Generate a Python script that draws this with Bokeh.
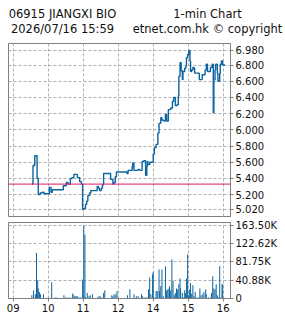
from bokeh.plotting import figure
from bokeh.models import Range1d, FixedTicker, Span, LinearAxis
from bokeh.layouts import column
from bokeh.embed import file_html
from bokeh.resources import INLINE

# ---- data (minutes after 09:00, lunch break removed) ----
price_min = [32, 34, 37, 41, 43, 46, 50, 53, 62, 65, 67, 86, 91, 94, 98, 101, 104, 110, 114, 117,
             119, 121, 124, 126, 128, 131, 133, 144, 146, 148, 151, 153, 155, 167, 171, 173, 175, 177,
             195, 197, 204, 205, 207, 210, 214, 217, 221, 224, 227, 229, 230, 231, 234, 240, 242, 245,
             248, 250, 253, 255, 258, 261, 263, 266, 270, 273, 275, 278, 281, 283, 284, 286, 288, 290,
             291, 294, 296, 297, 299, 301, 303, 304, 306, 308, 310, 311, 319, 324, 329, 331, 333, 338,
             341, 343, 344, 346, 347, 350, 351, 354, 355, 357, 359, 363]
price_val = [5.33, 5.56, 5.68, 5.40, 5.20, 5.22, 5.23, 5.21, 5.29, 5.23, 5.26, 5.31, 5.35, 5.33, 5.40, 5.41,
             5.45, 5.41, 5.36, 5.33, 5.02, 5.03, 5.08, 5.12, 5.19, 5.22, 5.25, 5.30, 5.28, 5.25, 5.28,
             5.32, 5.46, 5.39, 5.33, 5.35, 5.42, 5.48, 5.46, 5.50, 5.55, 5.59, 5.50, 5.50, 5.51, 5.50,
             5.61, 5.62, 5.44, 5.55, 5.61, 5.57, 5.60, 5.70, 5.78, 5.82, 5.96, 6.08, 6.15, 6.12, 6.11,
             6.19, 6.11, 6.25, 6.27, 6.35, 6.40, 6.30, 6.31, 6.42, 6.66, 6.83, 6.73, 6.62, 6.72, 6.76,
             6.79, 6.89, 6.93, 6.98, 6.85, 6.72, 6.74, 6.77, 6.76, 6.70, 6.62, 6.68, 6.74, 6.81, 6.72,
             6.77, 6.81, 6.21, 6.62, 6.74, 6.81, 6.70, 6.60, 6.70, 6.81, 6.85, 6.80, 6.80]
prev_close = 5.33

vol_min = [32, 35, 38, 40, 42, 43, 45, 47, 52, 60, 66, 72, 75, 87, 90, 92, 95, 98, 102, 104, 106, 108,
           110, 113, 116, 119, 121, 123, 124, 127, 130, 132, 136, 145, 147, 149, 152, 155, 157, 169,
           171, 173, 176, 178,
           196, 200, 207, 211, 214, 220, 222, 226, 228, 230, 232, 234, 236, 239, 240, 243, 245, 247,
           250, 251, 253, 255, 257, 261, 263, 265, 267, 268, 270, 272, 274, 276, 278, 280, 282, 284,
           286, 287, 290, 292, 294, 295, 297, 299, 300, 302, 304, 306, 308, 310, 312, 315, 318, 320,
           322, 325, 327, 330, 331, 335, 338, 340, 342, 344, 346, 348, 350, 352, 354, 356, 358, 359]
vol_k = [7.4, 18.5, 9.6, 101.7, 40.8, 22.3, 14.7, 9.6, 9.6, 2.2, 36.3, 2.2, 2.2, 7.4, 2.2, 2.2, 2.2, 2.2,
         11.0, 7.4, 5.1, 5.1, 5.1, 2.2, 2.2, 42.3, 163.5, 143.4, 2.9, 12.5, 5.1, 7.4, 9.6, 2.2, 5.1,
         5.1, 2.2, 12.5, 18.5, 7.4, 5.1, 9.6, 9.6, 17.0,
         7.4, 20.7, 9.6, 5.1, 5.1, 9.6, 5.1, 2.2, 2.2, 2.2, 20.7, 46.8, 9.6, 54.2, 59.4, 2.2, 17.0,
         17.0, 64.7, 17.0, 28.0, 64.7, 5.1, 72.0, 18.5, 20.0, 22.3, 27.4, 18.5, 87.6, 39.3, 7.4, 12.5,
         22.3, 20.0, 31.9, 44.6, 22.3, 12.5, 2.2, 18.5, 12.5, 44.6, 98.8, 7.4, 20.0, 34.8, 11.0, 29.7,
         5.1, 14.7, 2.2, 2.2, 22.3, 7.4, 9.6, 14.7, 20.7, 9.6, 2.2, 2.2, 12.5, 49.7, 22.3, 20.7, 31.9,
         7.4, 2.2, 72.0, 2.2, 31.9, 31.9]
vol_val = [v * 1000 for v in vol_k]

price_ticks = [5.02, 5.2, 5.4, 5.6, 5.8, 6.0, 6.2, 6.4, 6.6, 6.8, 6.98]
price_labels = ["5.020", "5.200", "5.400", "5.600", "5.800", "6.000", "6.200", "6.400", "6.600",
                "6.800", "6.980"]
vol_ticks = [0, 40875, 81750, 122625, 163500]
vol_labels = ["0", "40.88K", "81.75K", "122.62K", "163.50K"]
hour_ticks = [0, 60, 120, 180, 240, 300, 360]
hour_labels = ["09", "10", "11", "12", "14", "15", "16"]

header_left = "06915 JIANGXI BIO\n2026/07/16 15:59"
header_right = "1-min Chart\netnet.com.hk \u00a9 copyright"

# ---- styles ----
BLUE = "#0b64a0"
RED = "#e0186c"
GRID = "#b0b0b0"
BORDER = "#808080"
FONT = "DejaVu Sans"
X_RANGE = (-8, 372.5)


def style(p):
    p.outline_line_color = BORDER
    p.outline_line_width = 1
    p.background_fill_color = "white"
    p.border_fill_color = "white"
    for g in p.grid:
        g.grid_line_color = GRID
        g.grid_line_dash = "3 2"
        g.grid_line_width = 1
    for ax in p.axis:
        ax.axis_line_color = BORDER
        ax.major_tick_line_color = BORDER
        ax.major_tick_out = 3
        ax.major_tick_in = 0
        ax.minor_tick_line_color = None
        ax.major_label_text_font = FONT
        ax.major_label_text_font_size = "10px"
        ax.major_label_text_color = "#111111"
        ax.major_label_standoff = 2


p1 = figure(width=285, height=219, x_range=Range1d(*X_RANGE), y_range=Range1d(4.93, 7.066),
            output_backend="svg", toolbar_location=None, y_axis_location="right",
            x_axis_location=None, min_border_left=8, min_border_right=55,
            min_border_top=43, min_border_bottom=3)
p1.yaxis.ticker = FixedTicker(ticks=price_ticks)
p1.yaxis.major_label_overrides = {t: l for t, l in zip(price_ticks, price_labels)}
for g in p1.grid:
    if g.dimension == 0:
        g.ticker = FixedTicker(ticks=hour_ticks)
style(p1)

# header: an invisible axis above the frame, in canvas-pixel coordinates
p1.extra_x_ranges = {"px": Range1d(8, 230)}
hdr_pos = [62, 207]
hdr = LinearAxis(x_range_name="px", ticker=FixedTicker(ticks=hdr_pos),
                 major_label_overrides={hdr_pos[0]: header_left, hdr_pos[1]: header_right})
hdr.axis_line_color = None
hdr.major_tick_line_color = None
hdr.minor_tick_line_color = None
hdr.major_tick_in = 0
hdr.major_tick_out = 0
hdr.major_label_text_font = FONT
hdr.major_label_text_font_size = "11.5px"
hdr.major_label_text_line_height = 1.06
hdr.major_label_text_color = "#111111"
hdr.major_label_standoff = 8
p1.add_layout(hdr, "above")

p1.add_layout(Span(location=prev_close, dimension="width", line_color=RED, line_width=1))
p1.step(price_min, price_val, mode="after", line_color=BLUE, line_width=1.4)

p2 = figure(width=285, height=99, x_range=Range1d(*X_RANGE), y_range=Range1d(0, 170200),
            output_backend="svg", toolbar_location=None, y_axis_location="right",
            min_border_left=8, min_border_right=55, min_border_top=3, min_border_bottom=20)
p2.yaxis.ticker = FixedTicker(ticks=vol_ticks)
p2.yaxis.major_label_overrides = {t: l for t, l in zip(vol_ticks, vol_labels)}
p2.xaxis.ticker = FixedTicker(ticks=hour_ticks)
p2.xaxis.major_label_overrides = {t: l for t, l in zip(hour_ticks, hour_labels)}
style(p2)
p2.vbar(x=vol_min, top=vol_val, bottom=0, width=1.7, fill_color=BLUE, line_color=None)

layout = column(p1, p2, spacing=0)
open("out.html", "w").write(file_html(layout, INLINE))
